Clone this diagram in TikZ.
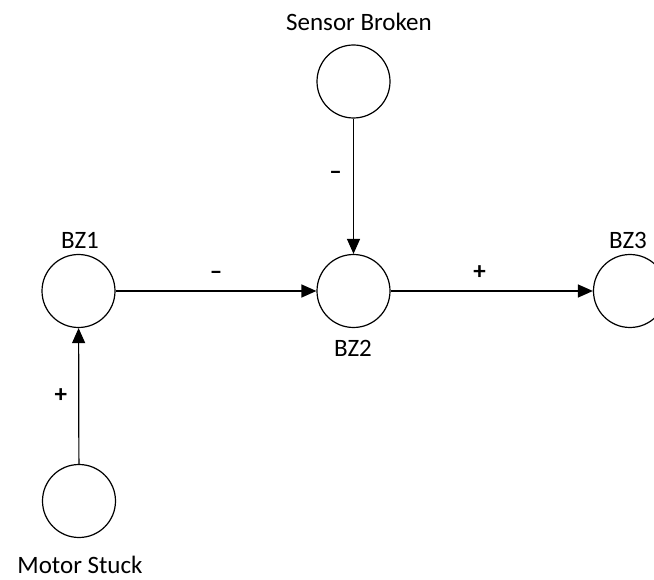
\documentclass[tikz,border=0pt]{standalone}
\usepackage{fontspec}
\setmainfont{Carlito}
\usetikzlibrary{arrows.meta, positioning}

\begin{document}
\begin{tikzpicture}[
    x=1pt, y=-1pt,
    state/.style={draw, circle, line width=1.2pt, minimum size=73pt, inner sep=0pt},
    arrow/.style={-{Triangle[length=15pt, width=13pt]}, line width=1.2pt},
    statelabel/.style={font=\fontsize{25}{30}\selectfont, inner sep=0pt},
    sign/.style={font=\fontsize{25}{30}\selectfont\bfseries, inner sep=0pt}
]
    \clip (0,0) rectangle (654,580);
    \fill[white] (0,0) rectangle (654,580);

    % States
    \node[state] (sensor) at (353.5,81.5) {};
    \node[state] (bz1)    at (78.5,291) {};
    \node[state] (bz2)    at (353.5,291) {};
    \node[state] (bz3)    at (630,291) {};
    \node[state] (motor)  at (79,501) {};

    % Names
    \node[statelabel] (sensorname) at (359,22) {Sensor Broken};
    \node[statelabel] (bz1name)    at (80,240) {BZ1};
    \node[statelabel] (bz2name)    at (353,348) {BZ2};
    \node[statelabel] (bz3name)    at (628,240) {BZ3};
    \node[statelabel] (motorname)  at (80,565) {Motor Stuck};

    % Arrows
    \draw[arrow] (sensor) -- node[sign, pos=0.42, left=11pt]{--} (bz2);
    \draw[arrow] (bz1) -- node[sign, pos=0.5, above=11pt]{--} (bz2);
    \draw[arrow] (bz2) -- node[sign, pos=0.44, above=11pt]{+} (bz3);
    \draw[arrow] (motor) -- node[sign, pos=0.5, left=11pt]{+} (bz1);
\end{tikzpicture}
\end{document}
